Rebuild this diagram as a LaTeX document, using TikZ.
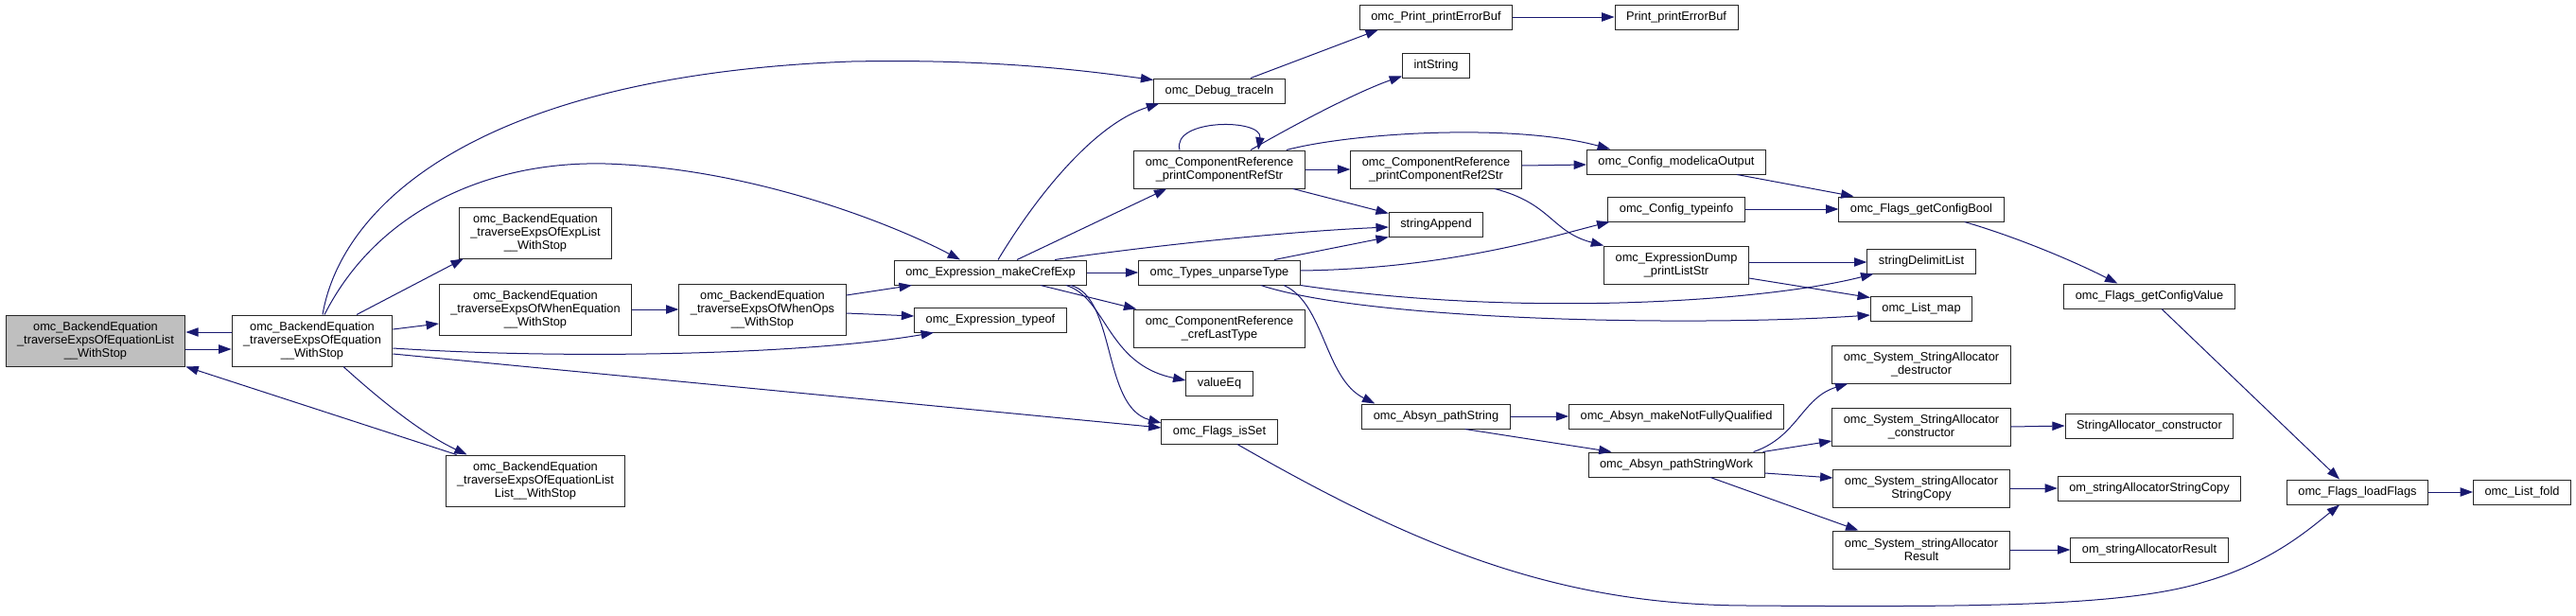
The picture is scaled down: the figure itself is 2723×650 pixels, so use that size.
\documentclass[tikz,border=0pt]{standalone}
\usepackage{fontspec}
\newfontfamily\graphfont{Liberation Sans}
\usepackage{tikz}
\usetikzlibrary{arrows.meta, positioning, calc}
\definecolor{midnight}{HTML}{191970}
\definecolor{rootgray}{HTML}{BFBFBF}

\begin{document}
\begin{tikzpicture}[
        x=0.75pt, y=-0.75pt,
        every node/.style={font=\graphfont\fontsize{9.6}{10.5}\selectfont},
        fn/.style={draw=black!85, line width=0.75pt, fill=white, align=center, inner xsep=9pt, inner ysep=0pt, minimum height=19.5pt},
        fntwo/.style={fn, minimum height=30pt},
        fnthree/.style={fn, minimum height=40.5pt},
        callarrow/.style={-{Triangle[length=10pt, width=7pt]}, line width=0.75pt, midnight}
    ]
    \useasboundingbox (0,0) rectangle (2723,650);

    % callers
    \node[fnthree, fill=rootgray] (root) at (101,360) {omc\_BackendEquation\\\_traverseExpsOfEquationList\\\_\_WithStop};
    \node[fnthree] (main) at (330,360) {omc\_BackendEquation\\\_traverseExpsOfEquation\\\_\_WithStop};
    \node[fnthree] (explist) at (566,246) {omc\_BackendEquation\\\_traverseExpsOfExpList\\\_\_WithStop};
    \node[fnthree] (wheneq) at (566,327) {omc\_BackendEquation\\\_traverseExpsOfWhenEquation\\\_\_WithStop};
    \node[fnthree] (whenops) at (806,327) {omc\_BackendEquation\\\_traverseExpsOfWhenOps\\\_\_WithStop};
    \node[fnthree] (eqll) at (566,508) {omc\_BackendEquation\\\_traverseExpsOfEquationList\\List\_\_WithStop};

    % expression level
    \node[fn] (makecref) at (1047,288) {omc\_Expression\_makeCrefExp};
    \node[fn] (typeof) at (1047,338) {omc\_Expression\_typeof};
    \node[fn] (traceln) at (1289,96) {omc\_Debug\_traceln};
    \node[fntwo] (crefstr) at (1289,179) {omc\_ComponentReference\\\_printComponentRefStr};
    \node[fn] (unparse) at (1289,288) {omc\_Types\_unparseType};
    \node[fntwo] (creflast) at (1289,347) {omc\_ComponentReference\\\_crefLastType};
    \node[fn] (valueeq) at (1289,405) {valueEq};
    \node[fn] (isset) at (1289,456) {omc\_Flags\_isSet};

    \node[fn] (printerr) at (1518,18) {omc\_Print\_printErrorBuf};
    \node[fn] (pebuf) at (1772,18) {Print\_printErrorBuf};
    \node[fn] (intstr) at (1518,69) {intString};
    \node[fntwo] (cref2str) at (1518,179) {omc\_ComponentReference\\\_printComponentRef2Str};
    \node[fn] (strappend) at (1518,237) {stringAppend};
    \node[fn] (modout) at (1772,171) {omc\_Config\_modelicaOutput};
    \node[fn] (typeinfo) at (1772,221) {omc\_Config\_typeinfo};
    \node[fntwo] (dumplist) at (1772,280) {omc\_ExpressionDump\\\_printListStr};
    \node[fn] (pathstr) at (1518,440) {omc\_Absyn\_pathString};
    \node[fn] (notfq) at (1772,440) {omc\_Absyn\_makeNotFullyQualified};
    \node[fn] (pathwork) at (1772,491) {omc\_Absyn\_pathStringWork};

    \node[fn] (cfgbool) at (2031,221) {omc\_Flags\_getConfigBool};
    \node[fn] (delimit) at (2031,276) {stringDelimitList};
    \node[fn] (listmap) at (2031,326) {omc\_List\_map};
    \node[fntwo] (sadestr) at (2031,385) {omc\_System\_StringAllocator\\\_destructor};
    \node[fntwo] (sactor) at (2031,451) {omc\_System\_StringAllocator\\\_constructor};
    \node[fntwo] (sacopy) at (2031,516) {omc\_System\_stringAllocator\\StringCopy};
    \node[fntwo] (saresult) at (2031,581) {omc\_System\_stringAllocator\\Result};

    \node[fn] (cfgvalue) at (2272,313) {omc\_Flags\_getConfigValue};
    \node[fn] (sactor2) at (2272,450) {StringAllocator\_constructor};
    \node[fn] (omcopy) at (2272,516) {om\_stringAllocatorStringCopy};
    \node[fn] (omresult) at (2272,581) {om\_stringAllocatorResult};
    \node[fn] (loadflags) at (2492,520) {omc\_Flags\_loadFlags};
    \node[fn] (listfold) at (2666,520) {omc\_List\_fold};

    % calls
    \draw[callarrow] ($(root.east)+(0,9)$) -- ($(main.west)+(0,9)$);
    \draw[callarrow] ($(main.west)+(0,-9)$) -- ($(root.east)+(0,-9)$);
    \draw[callarrow] ($(eqll.north west)+(12,0)$) -- (root.south east);
    \draw[callarrow] ($(main.south)+(33,0)$) .. controls (410,430) and (450,460) .. ($(eqll.north west)+(23,0)$);
    \draw[callarrow] ($(main.north)+(11,0)$) .. controls (360,220) and (500,80) .. (900,65)
        .. controls (1050,62) and (1150,75) .. ($(traceln.north west)+(0,2)$);
    \draw[callarrow] ($(main.north)+(13,0)$) .. controls (400,220) and (520,170) .. (640,173)
        .. controls (800,178) and (950,240) .. ($(makecref.north)+(-32,0)$);
    \draw[callarrow] ($(main.north)+(47,0)$) -- ($(explist.south west)+(5,0)$);
    \draw[callarrow] ($(main.east)+(0,-12)$) -- ($(wheneq.west)+(0,15)$);
    \draw[callarrow] ($(main.east)+(0,8)$) .. controls (600,380) and (850,375) .. ($(typeof.south)+(-60,0)$);
    \draw[callarrow] ($(main.east)+(0,14)$) -- ($(isset.west)+(0,-4)$);
    \draw[callarrow] (wheneq.east) -- (whenops.west);
    \draw[callarrow] ($(whenops.east)+(0,-15)$) -- ($(makecref.south west)+(19,0)$);
    \draw[callarrow] ($(whenops.east)+(0,4)$) -- ($(typeof.west)+(0,-4)$);

    \draw[callarrow] ($(makecref.north)+(8,0)$) .. controls (1100,200) and (1160,130) .. ($(traceln.south west)+(6,0)$);
    \draw[callarrow] ($(makecref.north)+(28,0)$) -- ($(crefstr.south west)+(35,0)$);
    \draw[callarrow] ($(makecref.north)+(68,0)$) .. controls (1200,262) and (1350,245) .. ($(strappend.west)+(0,3)$);
    \draw[callarrow] (makecref.east) -- (unparse.west);
    \draw[callarrow] ($(makecref.south)+(53,0)$) -- ($(creflast.north west)+(3,0)$);
    \draw[callarrow] ($(makecref.south)+(80,0)$) .. controls (1170,315) and (1170,385) .. ($(valueeq.west)+(0,-3)$);
    \draw[callarrow] ($(makecref.south)+(85,0)$) .. controls (1180,315) and (1165,430) .. ($(isset.west)+(0,-9)$);

    \draw[callarrow] ($(traceln.north)+(33,0)$) -- ($(printerr.south west)+(20,0)$);
    \draw[callarrow] (printerr.east) -- (pebuf.west);
    \draw[callarrow] ($(crefstr.north)+(-42,0)$) .. controls (1238,125) and (1335,125) .. ($(crefstr.north)+(41,0)$);
    \draw[callarrow] ($(crefstr.north)+(33,0)$) .. controls (1380,125) and (1440,95) .. ($(intstr.south west)+(0,-2)$);
    \draw[callarrow] ($(crefstr.north east)+(-20,0)$) .. controls (1430,140) and (1600,130) .. ($(modout.north west)+(25,0)$);
    \draw[callarrow] (crefstr.east) -- (cref2str.west);
    \draw[callarrow] ($(crefstr.south east)+(-13,0)$) -- ($(strappend.north west)+(0,2)$);
    \draw[callarrow] ($(cref2str.east)+(0,-4)$) -- ($(modout.west)+(0,3)$);
    \draw[callarrow] ($(cref2str.south)+(62,0)$) .. controls (1640,215) and (1640,245) .. (dumplist.north west);

    \draw[callarrow] ($(unparse.north)+(58,0)$) -- (strappend.south west);
    \draw[callarrow] ($(unparse.east)+(0,-2)$) .. controls (1530,284) and (1640,250) .. ($(typeinfo.south west)+(2,0)$);
    \draw[callarrow] (unparse.south east) .. controls (1600,335) and (1860,320) .. ($(delimit.south west)+(7,0)$);
    \draw[callarrow] ($(unparse.south east)+(-42,0)$) .. controls (1450,340) and (1800,345) .. ($(listmap.west)+(0,7)$);
    \draw[callarrow] ($(unparse.south)+(68,0)$) .. controls (1400,320) and (1400,400) .. ($(pathstr.north west)+(14,0)$);

    \draw[callarrow] ($(dumplist.east)+(0,-3)$) -- ($(delimit.west)+(0,1)$);
    \draw[callarrow] ($(dumplist.east)+(0,14)$) -- ($(listmap.north west)+(0,2)$);
    \draw[callarrow] ($(modout.south east)+(-31,0)$) -- ($(cfgbool.north west)+(16,0)$);
    \draw[callarrow] (typeinfo.east) -- (cfgbool.west);
    \draw[callarrow] ($(cfgbool.south east)+(-42,0)$) .. controls (2130,250) and (2190,275) .. ($(cfgvalue.north west)+(57,0)$);
    \draw[callarrow] ($(cfgvalue.south)+(13,0)$) -- ($(loadflags.north)+(-19,0)$);
    \draw[callarrow] ($(isset.south)+(19,0)$) .. controls (1500,580) and (1650,640) .. (1850,640)
        .. controls (2100,642) and (2250,640) .. (2330,615)
        .. controls (2400,595) and (2440,560) .. ($(loadflags.south)+(-19,0)$);
    \draw[callarrow] (loadflags.east) -- (listfold.west);

    \draw[callarrow] (pathstr.east) -- (notfq.west);
    \draw[callarrow] ($(pathstr.south east)+(-48,0)$) -- ($(pathwork.north west)+(25,0)$);
    \draw[callarrow] ($(pathwork.north east)+(-12,0)$) .. controls (1900,462) and (1905,420) .. ($(sadestr.south west)+(17,0)$);
    \draw[callarrow] ($(pathwork.north east)+(-2,0)$) -- ($(sactor.west)+(0,15)$);
    \draw[callarrow] ($(pathwork.east)+(0,9)$) -- ($(sacopy.west)+(0,-11)$);
    \draw[callarrow] ($(pathwork.south)+(36,0)$) -- ($(saresult.north west)+(27,0)$);
    \draw[callarrow] (sactor.east) -- (sactor2.west);
    \draw[callarrow] (sacopy.east) -- (omcopy.west);
    \draw[callarrow] (saresult.east) -- (omresult.west);
\end{tikzpicture}
\end{document}
